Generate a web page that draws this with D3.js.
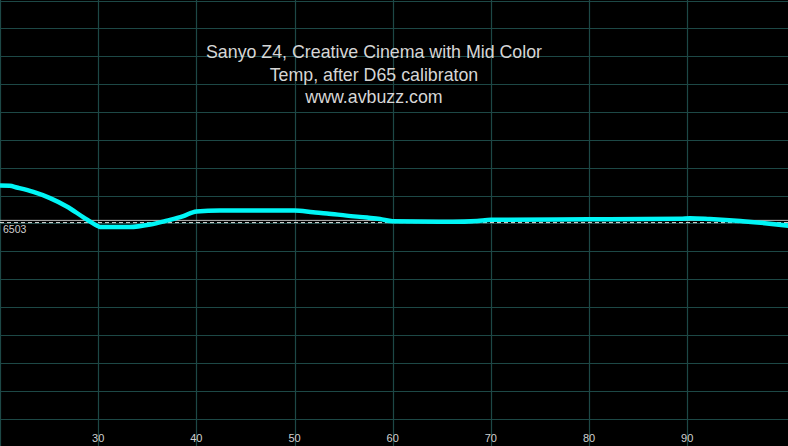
<!DOCTYPE html>
<html><head><meta charset="utf-8">
<script src="https://cdn.jsdelivr.net/npm/d3@7"></script>
<style>html,body{margin:0;padding:0;background:#000;}svg{display:block;}</style>
</head><body>
<script>
const titleLines = ["Sanyo Z4, Creative Cinema with Mid Color", "Temp, after D65 calibraton", "www.avbuzz.com"];
const xTicks = [30, 40, 50, 60, 70, 80, 90];
const xGrid = [20, 30, 40, 50, 60, 70, 80, 90];
const yGrid = [7300, 7200, 7100, 7000, 6900, 6800, 6700, 6600, 6500, 6400, 6300, 6200, 6100, 6000, 5900, 5800];
const refValue = 6503;
const refLabel = "6503";
const upperRef = 6511;
const ire = [20, 21.0, 21.7, 23.4, 25.1, 26.8, 28.5, 29.9, 30.2, 33.2, 35.3, 37, 38.6, 40, 42.4, 50, 51.9, 53.3, 55.3, 57.4, 58.7, 60, 66.1, 68.6, 70, 80, 89.3, 90.3, 92.3, 95.4, 97.9, 100.3];
const temp = [6636, 6635, 6629, 6613, 6591, 6561, 6522, 6492, 6487, 6487, 6496, 6510, 6525, 6543, 6546, 6546, 6540, 6536, 6528, 6521, 6516, 6508, 6506, 6509, 6513, 6515, 6517, 6519, 6516, 6509, 6501, 6492];

const W = 788, H = 446;
const svg = d3.select("body").append("svg").attr("width", W).attr("height", H)
  .style("background", "#000");
svg.append("rect").attr("width", W).attr("height", H).attr("fill", "#000");

const x = d3.scaleLinear().domain([20, 100]).range([0, 785.4]);
const y = d3.scaleLinear().domain([5800, 7300]).range([418.5, 0.5]);

const gridColor = "#1d4846";
svg.append("g").selectAll("line").data(yGrid).join("line")
  .attr("x1", 0).attr("x2", W)
  .attr("y1", d => Math.round(y(d)) + 0.5).attr("y2", d => Math.round(y(d)) + 0.5)
  .attr("stroke", gridColor).attr("stroke-width", 1.2);
svg.append("g").selectAll("line").data(xGrid).join("line")
  .attr("y1", 0).attr("y2", H)
  .attr("x1", d => Math.round(x(d)) + 0.5).attr("x2", d => Math.round(x(d)) + 0.5)
  .attr("stroke", gridColor).attr("stroke-width", 1.2);

// reference lines
svg.append("line").attr("x1", 0).attr("x2", W)
  .attr("y1", y(upperRef)).attr("y2", y(upperRef))
  .attr("stroke", "#bdbdbd").attr("stroke-width", 1);
svg.append("line").attr("x1", 0).attr("x2", W)
  .attr("y1", y(refValue)).attr("y2", y(refValue))
  .attr("stroke", "#e0e0e0").attr("stroke-width", 1).attr("stroke-dasharray", "4,3");
svg.append("text").attr("x", 3).attr("y", y(refValue) + 10)
  .attr("font-family", "Liberation Sans, Arial, sans-serif").attr("font-size", 10.5)
  .attr("fill", "#cfcfcf").text(refLabel);

// x tick labels
svg.append("g").selectAll("text").data(xTicks).join("text")
  .attr("x", d => x(d)).attr("y", 442)
  .attr("text-anchor", "middle")
  .attr("font-family", "Liberation Sans, Arial, sans-serif").attr("font-size", 11)
  .attr("fill", "#d0d0d0").text(d => d);

// curve
const data = ire.map((v, i) => [v, temp[i]]);
svg.append("path").datum(data)
  .attr("fill", "none").attr("stroke", "#00f6f6").attr("stroke-width", 4.5)
  .attr("stroke-linejoin", "round")
  .attr("d", d3.line().x(d => x(d[0])).y(d => y(d[1])).curve(d3.curveMonotoneX));

// title
svg.append("g").selectAll("text").data(titleLines).join("text")
  .attr("x", 374).attr("y", (d, i) => 58 + i * 22.5)
  .attr("text-anchor", "middle")
  .attr("font-family", "Liberation Sans, Arial, sans-serif").attr("font-size", 17.8)
  .attr("fill", "#d6d6d6").text(d => d);
</script>
</body></html>
